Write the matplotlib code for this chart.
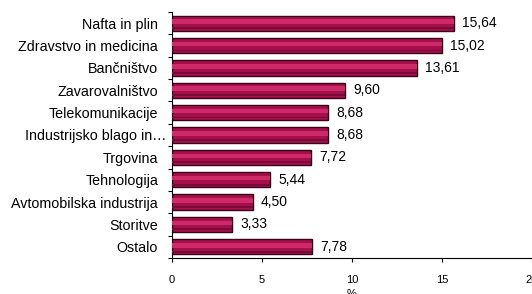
import matplotlib
matplotlib.use("Agg")
import matplotlib.pyplot as plt
import matplotlib.transforms as mtransforms
import numpy as np

categories = ["Nafta in plin", "Zdravstvo in medicina", "Bančništvo", "Zavarovalništvo",
              "Telekomunikacije", "Industrijsko blago in…", "Trgovina", "Tehnologija",
              "Avtomobilska industrija", "Storitve", "Ostalo"]
values = [15.64, 15.02, 13.61, 9.60, 8.68, 8.68, 7.72, 5.44, 4.50, 3.33, 7.78]
value_labels = ["15,64", "15,02", "13,61", "9,60", "8,68", "8,68", "7,72", "5,44", "4,50", "3,33", "7,78"]
xticks = [0, 5, 10, 15, 20]

plt.rcParams['font.family'] = ['Liberation Sans', 'DejaVu Sans']

fig = plt.figure(figsize=(5.32, 2.94), dpi=100)
ax = fig.add_axes([172/532, 1-258/294, 1-172/532, (258-12)/294])

y = np.arange(len(categories))
h = 0.68
ax.barh(y, values, height=h, color="#A50F4C", edgecolor="#3a0018", linewidth=1.0, zorder=2)
ax.barh(y - 0.07, values, height=h*0.3, color="#CF2A68", edgecolor="none", linewidth=0, zorder=3)
ax.barh(y + 0.22, values, height=h*0.12, color="#7a0a36", edgecolor="none", linewidth=0, zorder=3)

for yi, v, lab in zip(y, values, value_labels):
    ax.text(v + 0.45, yi, lab, va="center", ha="left", fontsize=10, color="black")

ax.set_ylim(len(categories) - 0.5, -0.5)
ax.set_xlim(0, 20)
ax.set_yticks(y)
ax.set_yticklabels(categories, fontsize=10.3)
ax.set_yticks(np.arange(-0.5, len(categories), 1), minor=True)
ax.tick_params(axis="y", which="major", length=0, pad=10)
ax.tick_params(axis="y", which="minor", length=3, direction="out", width=0.8)
ax.set_xticks(xticks)
ax.set_xticklabels([str(t) for t in xticks], fontsize=8)
ax.tick_params(axis="x", length=3, width=0.8, direction="out", pad=9)
ax.set_xlabel("%", fontsize=8, labelpad=3)

# the truncated label sits closer to the axis in the reference
lbl = ax.get_yticklabels()[5]
lbl.set_transform(lbl.get_transform() + mtransforms.ScaledTranslation(8/100, 0, fig.dpi_scale_trans))

for s in ["top", "right"]:
    ax.spines[s].set_visible(False)
for s in ["left", "bottom"]:
    ax.spines[s].set_linewidth(0.8)

fig.savefig("out.png", dpi=100)
